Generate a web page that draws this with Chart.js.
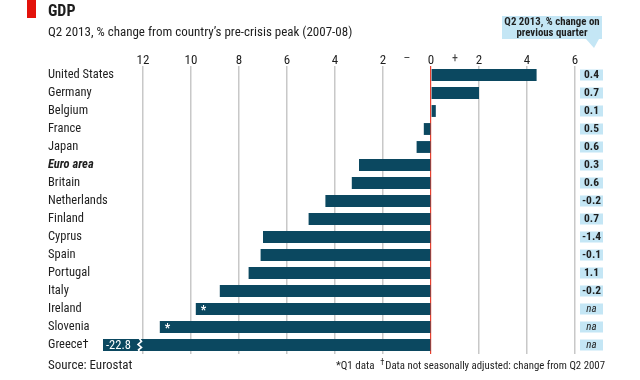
<!DOCTYPE html>
<html>
<head>
<meta charset="utf-8">
<script src="https://cdn.jsdelivr.net/npm/chart.js@4.4.1/dist/chart.umd.min.js"></script>
<style>
  body { margin: 0; background: #fff; }
  #wrap { width: 640px; height: 380px; }
</style>
</head>
<body>
<div id="wrap"><canvas id="gdpChart" width="640" height="380"></canvas></div>
<script>
// data
const countries = ['United States', 'Germany', 'Belgium', 'France', 'Japan', 'Euro area', 'Britain',
  'Netherlands', 'Finland', 'Cyprus', 'Spain', 'Portugal', 'Italy', 'Ireland', 'Slovenia', 'Greece†'];
const peakChange = [4.4, 2.0, 0.2, -0.3, -0.6, -3.0, -3.3, -4.4, -5.1, -7.0, -7.1, -7.6, -8.8, -9.8, -11.3, -22.8];
const quarterChange = ['0.4', '0.7', '0.1', '0.5', '0.6', '0.3', '0.6', '-0.2', '0.7', '-1.4', '-0.1', '1.1', '-0.2', 'na', 'na', 'na'];
const q1Only = ['Ireland', 'Slovenia'];   // marked with *
const brokenBar = 'Greece†';              // bar runs off the scale
const xTicks = [-12, -10, -8, -6, -4, -2, 0, 2, 4, 6];

const FONT = '"Roboto Condensed", "Liberation Sans", sans-serif';
const TEXT = '#1e1e1e';
const BAR = '#0b4860';
const BLUE = '#c4e6f5';
const OVERHANG = 15; // Greece bar pokes out left of the plot

// everything around the plot: title, note box, value column, footnotes
const extras = {
  id: 'extras',
  afterDraw(chart) {
    const c = chart.ctx;
    const xs = chart.scales.x;
    const meta = chart.getDatasetMeta(0);
    c.save();

    // title block
    c.fillStyle = '#e3120b';
    c.fillRect(27, 0, 9, 18);
    c.fillStyle = TEXT;
    c.textBaseline = 'middle';
    c.textAlign = 'left';
    c.font = 'bold 16px ' + FONT;
    c.fillText('GDP', 48, 12);
    c.font = '13px ' + FONT;
    c.fillText('Q2 2013, % change from country\u2019s pre-crisis peak (2007-08)', 48, 33);

    // - / + signs around zero
    c.textAlign = 'center';
    c.font = '12px ' + FONT;
    c.fillStyle = '#444';
    c.fillText('\u2013', xs.getPixelForValue(-1), 59);
    c.fillText('+', xs.getPixelForValue(1), 59);

    // note box for second column
    c.fillStyle = BLUE;
    c.fillRect(502, 16, 100, 23);
    c.beginPath();
    c.moveTo(586, 39);
    c.lineTo(599, 39);
    c.lineTo(594, 48);
    c.closePath();
    c.fill();
    c.fillStyle = TEXT;
    c.font = 'bold 10.8px ' + FONT;
    c.fillText('Q2 2013, % change on', 552, 22);
    c.fillText('previous quarter', 552, 33);

    // value column
    meta.data.forEach((bar, i) => {
      const y = bar.y;
      c.fillStyle = BLUE;
      c.fillRect(580, y - 5.5, 23, 11);
      c.fillStyle = TEXT;
      const v = quarterChange[i];
      c.font = (v === 'na' ? 'italic 11px ' : 'bold 11.5px ') + FONT;
      c.fillText(v, 591.5, y + 0.5);
    });

    // asterisks and the broken Greece bar
    meta.data.forEach((bar, i) => {
      const name = countries[i];
      c.fillStyle = '#fff';
      if (q1Only.includes(name)) {
        c.font = 'bold 12px ' + FONT;
        c.textAlign = 'left';
        c.fillText('*', bar.x + 5, bar.y + 2);
      }
      if (name === brokenBar) {
        const left = chart.chartArea.left - OVERHANG;
        c.font = '12.5px ' + FONT;
        c.textAlign = 'left';
        c.fillText(String(peakChange[i]), left + 3, bar.y + 0.5);
        const top = bar.y - bar.height / 2;
        const h = bar.height;
        c.strokeStyle = '#fff';
        c.lineWidth = 1.6;
        c.beginPath();
        c.moveTo(left + 36, top - 1);
        c.lineTo(left + 38.5, top + h * 0.2);
        c.lineTo(left + 35, top + h * 0.45);
        c.lineTo(left + 38.5, top + h * 0.7);
        c.lineTo(left + 35.5, top + h * 0.9);
        c.lineTo(left + 36.5, top + h + 1);
        c.stroke();
      }
    });

    // footnotes
    c.fillStyle = TEXT;
    c.font = '13px ' + FONT;
    c.textAlign = 'left';
    c.fillText('Source: Eurostat', 48, 366);
    c.font = '11px ' + FONT;
    c.fillText('*Q1 data', 336, 366);
    c.textAlign = 'right';
    c.font = '10.8px ' + FONT;
    c.fillText('Data not seasonally adjusted: change from Q2 2007', 605, 366);
    const w = c.measureText('Data not seasonally adjusted: change from Q2 2007').width;
    c.font = '8.5px ' + FONT;
    c.fillText('\u2020', 605 - w - 1, 363);
    c.restore();
  }
};

const ctx = document.getElementById('gdpChart').getContext('2d');
const gdpChart = new Chart(ctx, {
  type: 'bar',
  data: {
    labels: countries,
    datasets: [{
      data: peakChange,
      backgroundColor: BAR,
      borderWidth: 0,
      categoryPercentage: 0.66,
      barPercentage: 1,
      clip: { left: OVERHANG, top: 0, right: 0, bottom: 0 }
    }]
  },
  options: {
    indexAxis: 'y',
    responsive: false,
    animation: false,
    events: [],
    layout: { padding: { left: 48, right: 65, top: 40, bottom: 26 } },
    plugins: { legend: { display: false }, tooltip: { enabled: false } },
    scales: {
      x: {
        position: 'top',
        min: -13.0417,
        max: 6,
        afterBuildTicks: (scale) => { scale.ticks = xTicks.map(v => ({ value: v })); },
        afterFit: (scale) => { scale.height = 26; },
        border: { display: false },
        grid: {
          color: (c) => c.tick && c.tick.value === 0 ? '#e8402f' : '#c8c8c8',
          lineWidth: (c) => c.tick && c.tick.value === 0 ? 1.2 : 1.5,
          drawTicks: false
        },
        ticks: {
          callback: (v) => Math.abs(v),
          color: TEXT,
          font: { family: FONT, size: 13 },
          padding: -3,
          maxRotation: 0,
          autoSkip: false
        }
      },
      y: {
        afterFit: (scale) => { scale.width = 70; },
        border: { display: false },
        grid: { display: false },
        ticks: {
          crossAlign: 'far',
          autoSkip: false,
          color: TEXT,
          font: (c) => c.index === 5
            ? { family: FONT, size: 12.5, style: 'italic', weight: 'bold' }
            : { family: FONT, size: 12.5 }
        }
      }
    }
  },
  plugins: [extras]
});
</script>
</body>
</html>
